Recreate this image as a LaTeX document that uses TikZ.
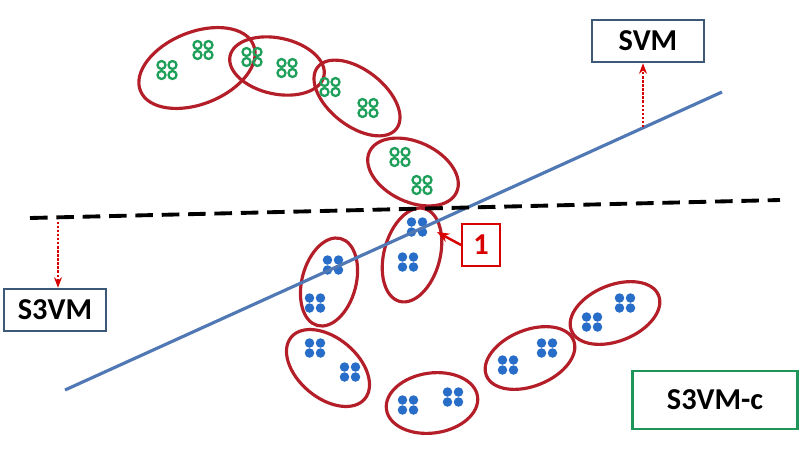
\documentclass[tikz,border=0pt]{standalone}
\usepackage{fontspec}
\setmainfont{Carlito}
\usetikzlibrary{arrows.meta}
\definecolor{grpred}{RGB}{180,30,40}
\definecolor{gr}{RGB}{30,160,90}
\definecolor{bl}{RGB}{40,110,200}
\definecolor{sep}{RGB}{80,120,180}
\definecolor{boxb}{RGB}{60,90,120}
\definecolor{boxg}{RGB}{30,150,90}
\begin{document}
\begin{tikzpicture}[x=0.02cm,y=-0.02cm,
  grp/.style={draw=grpred,line width=1.8pt},
  gdot/.style={draw=gr,line width=1.3pt,circle,inner sep=0pt,minimum size=0.16cm},
  bdot/.style={fill=bl,circle,inner sep=0pt,minimum size=0.19cm},
  lbl/.style={draw,line width=1.4pt,font=\bfseries\LARGE,inner sep=0pt,minimum height=0.84cm},
  redarr/.style={draw=red!85!black,densely dotted,line width=1.3pt,-{Stealth[length=6pt]}}]
\useasboundingbox (0,0) rectangle (800,450);
\newcommand{\gq}[2]{\foreach \dx in {-5.5,5.5}{\foreach \dy in {-5,5}{\node[gdot] at (#1+\dx,#2+\dy) {};}}}
\newcommand{\bq}[2]{\foreach \dx in {-5.5,5.5}{\foreach \dy in {-5,5}{\node[bdot] at (#1+\dx,#2+\dy) {};}}}
% green groups
\draw[grp,rotate around={22:(197,68)}] (197,68) ellipse (61 and 36);
\draw[grp,rotate around={-12:(277,66)}] (277,66) ellipse (48 and 28);
\draw[grp,rotate around={-38:(357,98)}] (357,98) ellipse (50 and 28);
\draw[grp,rotate around={-25:(413,172)}] (413,172) ellipse (48 and 30);
\gq{167}{70}\gq{203}{50}\gq{252}{57}\gq{287}{68}\gq{330}{87}\gq{368}{108}\gq{400}{157}\gq{422}{185}
% blue groups
\draw[grp,rotate around={-15:(412,255)}] (412,255) ellipse (28 and 48);
\draw[grp,rotate around={-15:(329,282)}] (329,282) ellipse (27 and 45);
\draw[grp,rotate around={-40:(328,368)}] (328,368) ellipse (48 and 30);
\draw[grp,rotate around={8:(432,403)}] (432,403) ellipse (46 and 30);
\draw[grp,rotate around={22:(530,358)}] (530,358) ellipse (47 and 28);
\draw[grp,rotate around={22:(615,313)}] (615,313) ellipse (47 and 28);
\bq{417}{227}\bq{408}{262}\bq{333}{265}\bq{315}{303}\bq{315}{348}\bq{350}{372}\bq{408}{405}\bq{453}{397}\bq{508}{365}\bq{547}{348}\bq{592}{322}\bq{625}{303}
% separators
\coordinate (s1) at (65,390); \coordinate (s2) at (722,92);
\draw[line width=1.8pt,sep] (s1) -- (s2);
\coordinate (d1) at (30,218); \coordinate (d2) at (780,200);
\draw[line width=2.2pt,dash pattern=on 10pt off 5pt] (d1) -- (d2);
% labels
\node[lbl,draw=boxb,minimum width=2.25cm] (svm) at (648,41) {SVM};
\node[lbl,draw=boxb,minimum width=2.05cm] (s3vm) at (55,310) {S3VM};
\node[lbl,draw=boxg,minimum width=3.3cm,minimum height=1.15cm] (s3vmc) at (715,400) {S3VM-c};
\node[lbl,draw=red!85!black,text=red!85!black,minimum width=0.75cm] (one) at (481,245) {1};
\coordinate (a1) at (643,127); \coordinate (a2) at (58,222);
\draw[redarr] (a1) -- (svm.south -| a1);
\draw[redarr] (a2) -- (s3vm.north -| a2);
\coordinate (t1) at (437,232);
\draw[red!85!black,line width=1.4pt,-{Stealth[length=7pt]}] (one.west) -- (t1);
\end{tikzpicture}
\end{document}
